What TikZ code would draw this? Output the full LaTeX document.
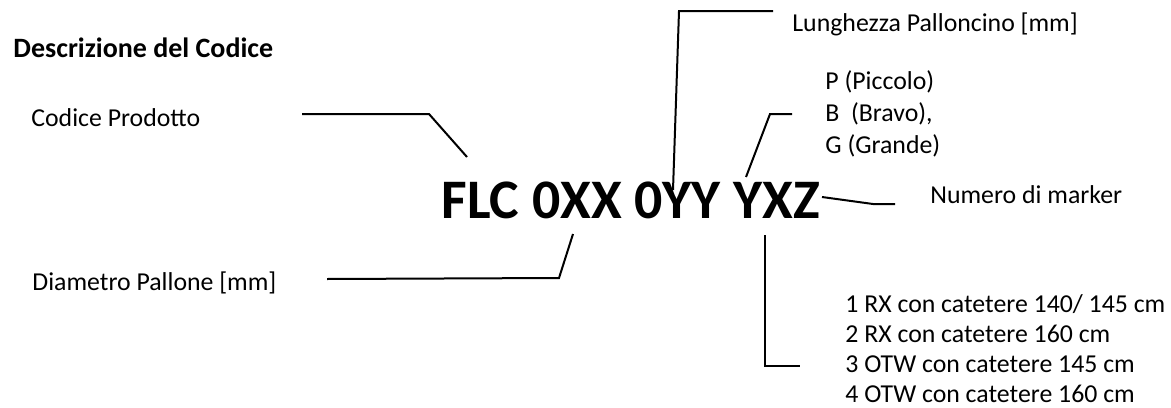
\documentclass[tikz,border=0pt]{standalone}
\usepackage{fontspec}
\setmainfont{Carlito}

\begin{document}
\begin{tikzpicture}[
  x=0.5pt, y=-0.5pt,
  lbl/.style={anchor=base west, inner sep=0pt, align=left,
              font=\fontsize{12.9}{16}\selectfont},
  head/.style={anchor=base west, inner sep=0pt,
               font=\fontsize{14}{16}\selectfont\bfseries},
  code/.style={anchor=base west, inner sep=0pt,
               font=\fontsize{27.9}{32}\selectfont\bfseries},
  lead/.style={line width=1pt, line join=miter}]
  \useasboundingbox (0,0) rectangle (1171,407);

  % titolo e codice
  \node[head] (title) at (13,57) {Descrizione del Codice};
  \node[code] (code) at (441,218) {FLC 0XX 0YY YXZ};

  % etichette a sinistra
  \node[lbl] (prod) at (31,126) {Codice Prodotto};
  \node[lbl] (diam) at (32,290) {Diametro Pallone [mm]};

  % etichette a destra (base = ultima riga)
  \node[lbl] (lung) at (792,32) {Lunghezza Palloncino [mm]};
  \node[lbl] (size) at (825,153)
    {P (Piccolo)\\ B\ \ (Bravo),\\ G (Grande)};
  \node[lbl] (mark) at (930,203) {Numero di marker};
  \node[lbl, font=\fontsize{12.9}{14.85}\selectfont] (cat) at (845,402)
    {1 RX con catetere 140/ 145 cm\\ 2 RX con catetere 160 cm\\
     3 OTW con catetere 145 cm\\ 4 OTW con catetere 160 cm};

  % punti di attacco
  \coordinate (prodA) at (302,114);
  \coordinate (prodB) at (429,114);
  \coordinate (prodC) at (467,157);
  \coordinate (diamA) at (327,279);
  \coordinate (diamB) at (559,278);
  \coordinate (diamC) at (573,234);
  \coordinate (lungA) at (773,11);
  \coordinate (lungB) at (679,11);
  \coordinate (lungC) at (673,190);
  \coordinate (sizeA) at (792,114);
  \coordinate (sizeB) at (770,114);
  \coordinate (sizeC) at (746,177);
  \coordinate (markA) at (822,197);
  \coordinate (markB) at (873,204);
  \coordinate (markC) at (895,204);
  \coordinate (catA) at (765,235);
  \coordinate (catB) at (765,366);
  \coordinate (catC) at (800,366);

  % linee di richiamo
  \draw[lead] (prodA) -- (prodB) -- (prodC);
  \draw[lead] (diamA) -- (diamB) -- (diamC);
  \draw[lead] (lungA) -- (lungB) -- (lungC);
  \draw[lead] (sizeA) -- (sizeB) -- (sizeC);
  \draw[lead] (markA) -- (markB) -- (markC);
  \draw[lead] (catA) -- (catB) -- (catC);
\end{tikzpicture}
\end{document}
